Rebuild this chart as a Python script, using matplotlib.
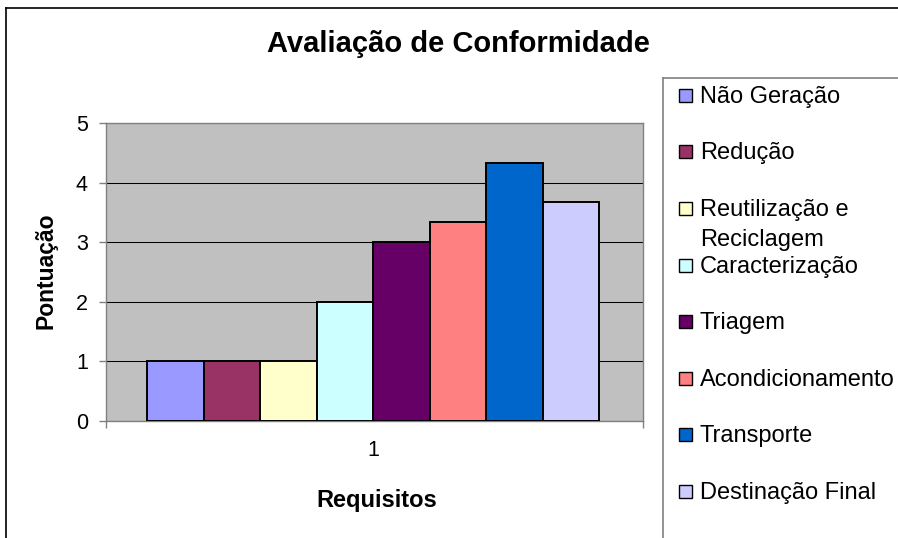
import matplotlib
matplotlib.use('Agg')
import matplotlib.pyplot as plt
from matplotlib.patches import Rectangle
from matplotlib.lines import Line2D
import numpy as np

plt.rcParams['font.family'] = ['Liberation Sans', 'DejaVu Sans']

title = 'Avaliação de Conformidade'
x_label = 'Requisitos'
y_label = 'Pontuação'
category = ['1']
series = ['Não Geração', 'Redução', 'Reutilização e\nReciclagem', 'Caracterização',
          'Triagem', 'Acondicionamento', 'Transporte', 'Destinação Final']
values = [1.0, 1.0, 1.0, 2.0, 3.0, 3.33, 4.33, 3.67]
colors = ['#9999FF', '#993366', '#FFFFCC', '#CCFFFF', '#660066', '#FF8080', '#0066CC', '#CCCCFF']
y_ticks = [0, 1, 2, 3, 4, 5]

W, H = 898, 538
fig = plt.figure(figsize=(W / 100, H / 100), dpi=100)
fig.patch.set_facecolor('white')


def fx(x):
    return x / W


def fy(y):
    return 1 - y / H


ax = fig.add_axes([fx(106), fy(420.7), (643.3 - 106) / W, (420.7 - 123) / H])
ax.set_facecolor('#C0C0C0')
n = len(values)
pos = np.arange(n) - (n - 1) / 2
ax.bar(pos, values, width=1.0, color=colors, edgecolor='black', linewidth=1.4, zorder=3)
ax.set_xlim(-4.726, 4.784)
ax.set_ylim(0, 5)
ax.set_yticks(y_ticks)
ax.yaxis.grid(True, color='black', linewidth=0.75)
ax.set_axisbelow(True)
for s in ax.spines.values():
    s.set_color('#808080')
    s.set_linewidth(1.0)
ax.tick_params(axis='y', direction='out', length=5, width=1, color='#808080', pad=8, labelsize=15.5)
ax.set_xticks([0], category)
ax.tick_params(axis='x', which='major', length=0, pad=14, labelsize=15.5)
ax.set_xticks(list(ax.get_xlim()), minor=True)
ax.tick_params(axis='x', which='minor', direction='out', length=5, width=1, color='#808080')

fig.text(fx(458), fy(52), title, ha='center', va='baseline', fontsize=21, fontweight='bold')
fig.text(fx(46), fy(271), y_label, rotation=90, ha='center', va='center', fontsize=16.5, fontweight='bold')
fig.text(fx(377), fy(506.7), x_label, ha='center', va='baseline', fontsize=17, fontweight='bold')

# chart outer border (partially visible)
fig.add_artist(Line2D([fx(6), fx(6)], [fy(8), -0.1], color='black', lw=1.2, transform=fig.transFigure))
fig.add_artist(Line2D([fx(6), 1.1], [fy(8), fy(8)], color='black', lw=1.2, transform=fig.transFigure))

# legend box
fig.add_artist(Line2D([fx(663), fx(663)], [fy(78), -0.1], color='#808080', lw=1.2, transform=fig.transFigure))
fig.add_artist(Line2D([fx(663), 1.1], [fy(78), fy(78)], color='#808080', lw=1.2, transform=fig.transFigure))

for i, (name, col) in enumerate(zip(series, colors)):
    yc = 95.5 + 56.5 * i
    fig.add_artist(Rectangle((fx(679), fy(yc + 6.5)), 13 / W, 13 / H, facecolor=col,
                             edgecolor='black', lw=1.0, transform=fig.transFigure))
    for j, line in enumerate(name.split('\n')):
        fig.text(fx(700), fy(yc + 7.5 + 29.5 * j), line, ha='left', va='baseline', fontsize=17)

fig.savefig('out.png', dpi=100)
